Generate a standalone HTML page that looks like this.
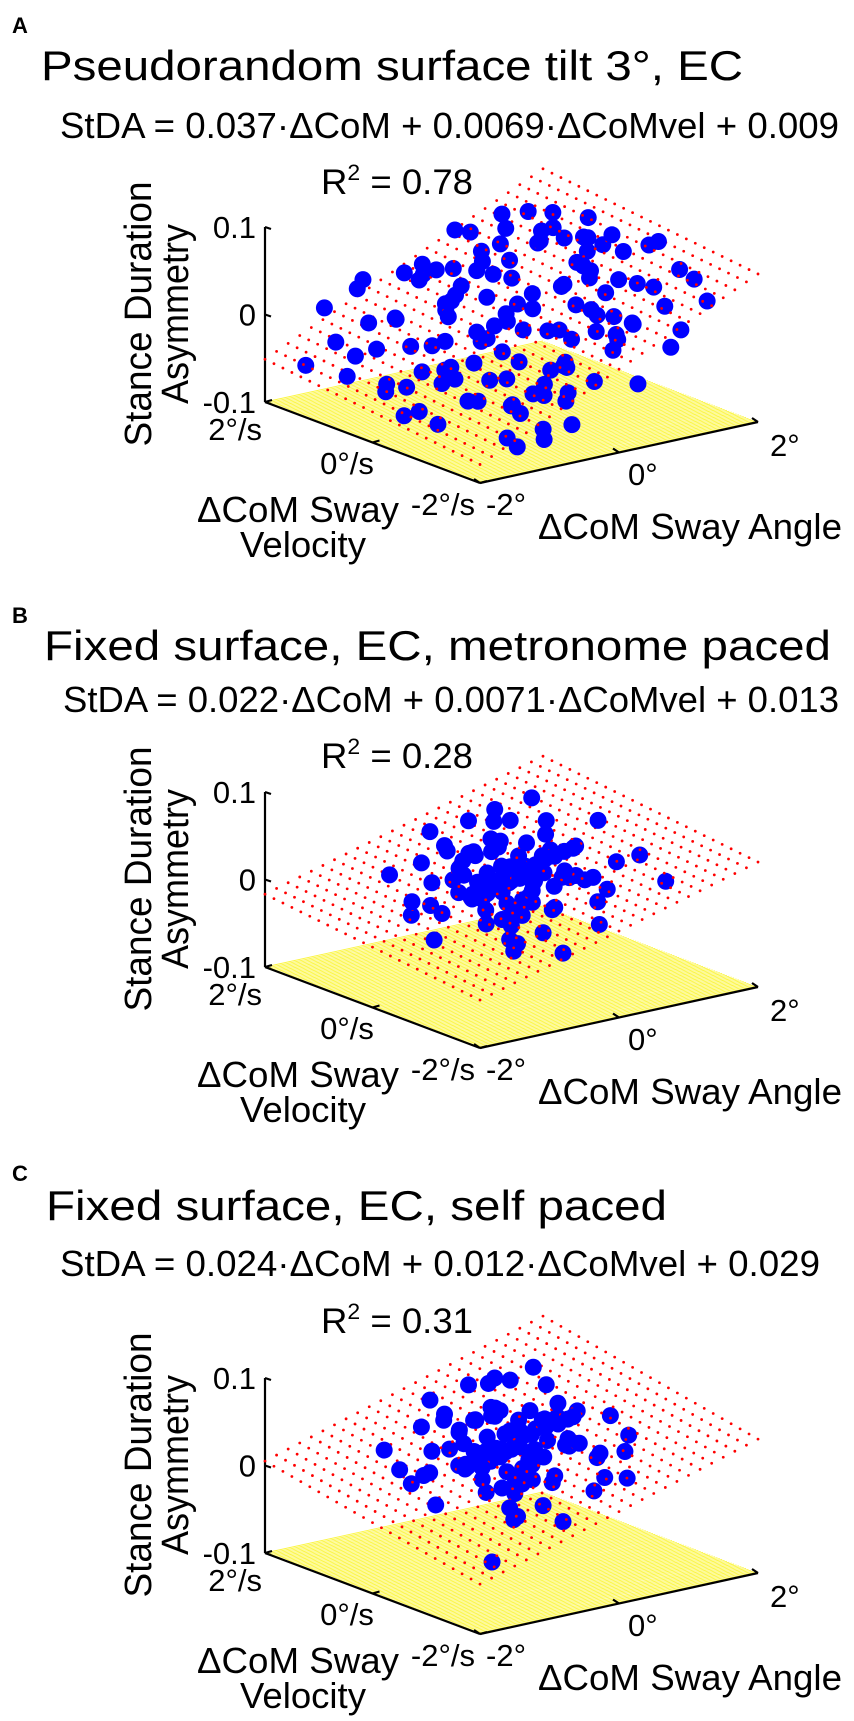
<!DOCTYPE html>
<html><head><meta charset="utf-8">
<style>
html,body{margin:0;padding:0;background:#fff;}
svg{display:block;font-family:"Liberation Sans",sans-serif;}
</style></head>
<body>
<svg id="fig" width="854" height="1721" viewBox="0 0 854 1721" xmlns="http://www.w3.org/2000/svg"></svg>
<script>
// ---- Panel data ----
const panelLetters = ["A","B","C"];
const panelTitles = ["Pseudorandom surface tilt 3°, EC","Fixed surface, EC, metronome paced","Fixed surface, EC, self paced"];
const equations = ["StDA = 0.037·ΔCoM + 0.0069·ΔCoMvel + 0.009","StDA = 0.022·ΔCoM + 0.0071·ΔCoMvel + 0.013","StDA = 0.024·ΔCoM + 0.012·ΔCoMvel + 0.029"];
const rSquared = ["0.78","0.28","0.31"];
const coefAngle = [0.037,0.022,0.024];
const coefVel = [0.0069,0.0071,0.012];
const intercepts = [0.009,0.013,0.029];
const zTicks = [0.1,0,-0.1];
const zTickLabels = ["0.1","0","-0.1"];
const velTicks = [2,0,-2];
const velTickLabels = ["2°/s","0°/s","-2°/s"];
const angTicks = [-2,0,2];
const angTickLabels = ["-2°","0°","2°"];

// Panel A points
const angleA = [-1.8,-1.6,-1.5,-1.3,-1.2,-1.1,-1.0,-0.9,-0.8,-0.7,-0.6,-0.5,-0.4,-0.3,-0.2,-0.1,0.0,0.1,0.2,0.3,0.4,0.5,0.6,0.7,0.8,0.9,1.0,1.1,1.2,1.3,1.4,1.5,1.6,1.7,1.8,1.9,-1.7,-1.4,-0.95,-0.65,-0.45,-0.25,-0.05,0.15,0.35,0.55,0.75,0.95,1.15,1.35,-1.55,-1.25,-0.85,-0.55,-0.35,-0.15,0.05,0.25,0.45,0.65,0.85,1.05,1.25,1.45,1.65,-1.9,-1.05,-0.75,-0.15,0.35,-0.6,-1.3,0.9,1.5,0.1,-0.2,0.3,-0.4,0.6,0.0,-0.9,1.0,0.2,-0.5,0.8,1.2,-1.1,-0.3,0.5,1.7];
const velA = [1.5,1.2,0.4,1.8,-0.5,0.9,-1.4,1.6,0.2,-0.9,1.1,-1.7,0.6,-0.3,1.4,-1.1,0.1,-0.6,0.8,-1.5,0.3,1.7,-0.2,-1.0,0.5,1.2,-0.7,0.0,-1.6,0.7,1.5,-0.4,0.2,-1.2,0.9,-0.1,-0.2,-1.0,-0.1,0.4,-0.6,0.9,0.5,-0.2,1.1,0.6,-0.5,0.3,1.0,-0.9,0.9,0.1,-0.4,-1.3,0.0,-0.8,1.0,0.4,-0.9,1.4,-0.1,0.8,0.4,1.1,-0.6,0.6,1.3,1.9,1.8,-1.9,-1.9,-1.6,-1.8,-1.7,0.3,0.2,-0.5,-0.2,0.1,-0.4,0.5,-0.3,1.3,1.5,1.8,-0.2,-0.8,-1.0,-1.3,0.5];
const asymA = [-0.05,-0.02,-0.06,0.0,-0.03,-0.07,-0.09,0.03,-0.01,-0.06,-0.04,-0.03,0.02,-0.05,0.04,-0.02,0.01,-0.04,0.05,0.0,-0.02,0.06,0.04,0.02,0.07,0.03,0.05,0.08,0.01,0.06,0.07,0.03,0.07,0.05,0.07,0.06,-0.07,-0.04,-0.03,-0.05,-0.07,0.0,-0.03,0.02,0.03,0.0,0.06,0.02,0.05,0.04,-0.03,-0.08,-0.02,-0.08,-0.01,-0.06,0.02,-0.01,0.03,0.04,0.01,0.07,0.04,0.06,0.08,-0.04,-0.01,0.01,0.02,-0.03,-0.06,-0.07,0.0,0.04,-0.04,0.03,0.0,0.01,-0.02,-0.07,-0.05,0.0,0.0,-0.02,0.05,0.02,-0.05,-0.04,0.01,0.05];
const angleA2 = [-1.0,-0.6,-0.2,0.2,0.6,1.0,1.4,-1.4,-0.8,-0.4,0.0,0.4,0.8,1.2,1.6,-1.2,-0.5,0.1,0.7,1.3,-0.7,-0.1,0.5,1.1,-0.3,0.3,0.9,1.5,-1.6,-0.9,-0.2,0.4,1.0,1.8,-0.6,0.0,0.6,1.2,-1.0,0.2];
const velA2 = [0.0,0.4,-0.4,0.6,-0.8,1.4,0.4,0.7,-1.2,1.2,-1.0,1.6,-0.3,-1.3,1.3,0.4,0.0,-0.9,0.9,-0.4,-0.5,1.1,-1.6,1.6,-1.4,0.0,-1.1,0.6,-0.7,1.0,-1.8,-0.6,1.5,-0.8,0.7,1.4,-1.2,0.1,-1.9,1.9];
const asymA2 = [-0.05,0.01,-0.03,0.04,0.0,0.06,0.05,-0.02,-0.06,0.03,-0.02,0.02,0.06,0.03,0.07,-0.06,0.0,-0.03,0.02,0.07,-0.04,0.0,0.03,0.07,-0.05,0.03,0.01,0.06,-0.07,0.0,-0.02,-0.01,0.04,0.05,-0.03,0.03,0.0,0.03,-0.07,0.01];

// Panel B points
const angleB = [0.0,0.2,-0.2,0.1,-0.1,0.3,-0.3,0.4,-0.4,0.15,-0.15,0.25,-0.25,0.05,-0.05,0.35,-0.35,0.5,-0.5,0.1,-0.1,0.45,-0.45,0.2,0.6,-0.6,0.0,0.0,0.3,-0.3,0.8,-0.8,0.9,-0.7,1.0,-1.0,0.6,-0.5,0.7,-0.6,1.2,-1.2,0.2,-0.2,0.4,-0.4,1.4,-1.5,0.5,-0.1,0.3,-0.3,0.1,0.8,-0.9,1.1,-1.1,0.0,0.9,-0.8,2.0,1.6,-1.6,0.6,-0.7,0.3,0.2,-0.5,0.7,-0.2,1.3,-1.3,0.5,-0.6,0.4];
const velB = [0.0,0.1,0.2,-0.3,-0.1,0.3,-0.2,-0.1,0.1,0.4,-0.4,-0.25,0.35,0.15,-0.25,0.05,0.0,0.2,-0.1,0.5,-0.5,0.45,0.4,-0.5,-0.3,0.2,0.3,-0.2,0.0,0.5,0.4,-0.3,-0.2,0.6,0.1,0.0,0.8,-0.8,-0.7,0.9,-0.4,0.3,0.9,-0.9,-1.0,1.0,0.2,-0.5,0.0,0.2,-0.2,-0.5,0.6,-0.6,0.7,0.7,-0.7,0.8,0.9,-1.0,0.2,-0.8,0.2,0.4,-0.2,0.7,-0.7,0.6,0.1,-0.3,-0.1,-0.2,-0.5,-0.6,0.9];
const asymB = [0.01,0.02,0.0,0.015,0.03,0.005,0.02,0.03,0.01,-0.01,0.0,0.04,0.035,-0.02,-0.01,0.0,0.025,0.015,0.0,0.03,0.035,0.02,-0.005,-0.015,0.01,0.03,0.045,-0.025,-0.02,0.01,0.04,0.01,0.0,-0.02,0.03,-0.01,0.05,0.04,-0.01,0.02,0.02,0.0,-0.03,0.06,0.03,0.05,0.05,-0.02,0.07,0.075,-0.05,-0.045,-0.055,-0.04,-0.03,0.01,0.03,0.06,-0.01,-0.02,0.0,0.0,0.04,0.085,0.06,0.07,-0.06,0.045,-0.035,-0.06,-0.02,0.035,0.05,-0.01,0.03];
const angleB2 = [0.05,-0.25,0.35,-0.45,0.15,0.55,-0.05,0.25,-0.35,0.45,-0.15,0.65,-0.55,0.0,0.3,-0.3,0.1,-0.1,0.5,-0.5,0.2,-0.2,0.4,-0.4,0.7,-0.7,0.15,-0.15,0.35,-0.35];
const velB2 = [0.25,-0.15,-0.35,0.05,0.55,0.1,-0.45,0.6,0.3,-0.4,0.05,-0.1,-0.3,0.45,-0.6,0.7,-0.15,0.35,-0.55,0.55,0.25,-0.05,0.2,-0.3,0.3,0.0,-0.6,0.6,0.5,-0.45];
const asymB2 = [0.02,0.005,0.04,0.015,-0.005,0.025,0.01,0.035,-0.01,0.045,0.05,0.005,0.02,-0.015,0.03,0.0,0.055,-0.03,0.02,0.04,-0.035,0.06,-0.02,0.025,0.0,0.045,0.015,0.03,-0.01,-0.025];

// Panel C points
const angleC = [0,0.2,-0.2,0.1,-0.1,0.3,-0.3,0.4,-0.4,0.15,-0.15,0.25,-0.25,0.05,-0.05,0.35,-0.35,0.5,-0.5,0.1,-0.1,0.45,-0.45,0.2,0.6,-0.6,0.0,0.0,0.3,-0.3,0.9,-0.9,1.0,-0.8,1.1,-1.1,0.6,-0.5,0.8,-0.6,1.3,-1.3,0.2,-0.2,0.5,-0.4,1.5,-1.4,0.5,-0.1,0.3,-0.3,0.1,0.8,-0.9,1.2,-1.2,0.0,0.9,-0.8,-0.28,1.4,-1.6,0.7,-0.7,0.3,0.2,-0.5,0.7,-0.2,1.2,-1.3,0.5,-0.6,0.4];
const velC = [0,0.1,0.2,-0.3,-0.1,0.3,-0.2,-0.1,0.1,0.4,-0.4,-0.25,0.35,0.15,-0.25,0.05,0.0,0.2,-0.1,0.5,-0.5,0.45,0.4,-0.5,-0.3,0.2,0.3,-0.2,0.0,0.5,0.3,-0.3,-0.3,0.6,0.2,0.1,0.8,-0.8,-0.7,0.9,-0.5,0.4,0.9,-0.9,-1.0,1.0,0.1,-0.4,0.0,0.3,-0.2,-0.5,0.6,-0.5,0.7,0.7,-0.7,0.8,0.9,-1.0,0,-0.3,0.3,0.5,-0.2,0.7,-0.7,0.6,0.1,-0.3,-0.6,-0.2,-0.5,-0.6,0.9];
const asymC = [0.03,0.045,0.02,0.035,0.055,0.025,0.04,0.06,0.03,0.01,0.02,0.065,0.06,0.0,0.005,0.015,0.05,0.04,0.02,0.055,0.06,0.045,0.01,0.0,0.03,0.055,0.07,-0.005,-0.01,0.03,0.06,0.03,0.01,0.0,0.05,0.02,0.08,0.06,0.0,0.045,0.035,0.02,-0.01,0.08,0.04,0.07,0.04,0.0,0.095,0.1,-0.035,-0.03,-0.035,-0.02,-0.01,0.03,0.05,0.085,0.01,0.0,-0.094,0.01,0.05,0.1,0.08,0.09,-0.04,0.065,-0.015,-0.04,-0.01,0.055,0.07,0.01,0.05];
const angleC2 = [0.1,-0.3,0.4,-0.5,0.2,0.6,-0.1,0.3,-0.4,0.5,-0.2,0.7,-0.6,0.05,0.35,-0.35,0.15,-0.15,0.55,-0.55,0.25,-0.25,0.45,-0.45,0.75,-0.75,0.0,-0.05,0.3,-0.3];
const velC2 = [0.25,-0.15,-0.35,0.05,0.55,0.1,-0.45,0.6,0.3,-0.4,0.05,-0.1,-0.3,0.45,-0.6,0.7,-0.15,0.35,-0.55,0.55,0.25,-0.05,0.2,-0.3,0.3,0.0,-0.6,0.6,0.5,-0.45];
const asymC2 = [0.04,0.03,0.06,0.035,0.015,0.05,0.03,0.055,0.01,0.065,0.07,0.025,0.045,0.005,0.05,0.02,0.075,-0.01,0.04,0.06,-0.015,0.08,0.0,0.045,0.02,0.065,0.035,0.05,0.01,-0.005];

const angleData = [angleA.concat(angleA2), angleB.concat(angleB2), angleC.concat(angleC2)];
const velData = [velA.concat(velA2), velB.concat(velB2), velC.concat(velC2)];
const asymData = [asymA.concat(asymA2), asymB.concat(asymB2), asymC.concat(asymC2)];

// ---- layout (not data) ----
const panelOffsets = [0, 565, 1151];
const headerY = [[33,80,138,194],[623,660,712,768],[1181,1220,1276,1333]];
const titleWidths = [[41,702],[44,787],[46,621]];
const eqWidths = [[60,779],[63,776],[60,760]];
const NS = "http://www.w3.org/2000/svg";
const svg = document.getElementById("fig");

function mk(tag, attrs, parent) {
  const e = document.createElementNS(NS, tag);
  for (const k in attrs) e.setAttribute(k, attrs[k]);
  (parent || svg).appendChild(e);
  return e;
}
function projX(a, v) { return 480 + 69.5 * (a + 2) - 53.75 * (v + 2); }
function projY(a, v, z, off) { return off + 483 - 15.25 * (a + 2) - 20.25 * (v + 2) - 875 * (z + 0.1); }

for (let p = 0; p < 3; p++) {
  const off = panelOffsets[p];
  const g = mk("g", {});
  
  
  const hy = headerY[p];
  let t = mk("text", {x: 12, y: hy[0], "font-size": 22, "font-weight": "bold"}, g);
  t.textContent = panelLetters[p];
  
  
  t = mk("text", {x: titleWidths[p][0], y: hy[1], "font-size": 42, textLength: titleWidths[p][1], lengthAdjust: "spacingAndGlyphs"}, g);
  t.textContent = panelTitles[p];
  
  
  t = mk("text", {x: eqWidths[p][0], y: hy[2], "font-size": 36, textLength: eqWidths[p][1], lengthAdjust: "spacingAndGlyphs"}, g);
  t.textContent = equations[p];
  
  
  t = mk("text", {x: 321, y: hy[3], "font-size": 35, textLength: 152, lengthAdjust: "spacingAndGlyphs"}, g);
  
  
  t.appendChild(document.createTextNode("R"));
  const sup = mk("tspan", {dy: -14, "font-size": 22}, t);
  sup.textContent = "2";
  const rest = mk("tspan", {dy: 14}, t);
  rest.textContent = " = " + rSquared[p];

  // floor
  const floor = mk("g", {}, g);
  
  
  const corners = [[-2,-2],[2,-2],[2,2],[-2,2]];
  mk("polygon", {points: corners.map(c => projX(c[0],c[1]) + "," + projY(c[0],c[1],-0.1,off)).join(" "), fill: "#ffffff"}, floor);
  for (let i = 0; i <= 90; i++) {
    const v = -2 + 4 * i / 90;
    mk("line", {x1: projX(-2,v), y1: projY(-2,v,-0.1,off), x2: projX(2,v), y2: projY(2,v,-0.1,off), stroke: "#fbf540", "stroke-width": 0.9}, floor);
  }
  // axes
  const ax = mk("g", {stroke: "#000", "stroke-width": 2.2, fill: "none"}, g);
  
  
  mk("line", {x1: projX(-2,2), y1: projY(-2,2,-0.1,off), x2: projX(-2,2), y2: projY(-2,2,0.1,off)}, ax);
  mk("line", {x1: projX(-2,2), y1: projY(-2,2,-0.1,off), x2: projX(-2,-2), y2: projY(-2,-2,-0.1,off)}, ax);
  mk("line", {x1: projX(-2,-2), y1: projY(-2,-2,-0.1,off), x2: projX(2,-2), y2: projY(2,-2,-0.1,off)}, ax);
  zTicks.forEach((z, i) => {
    const x = projX(-2,2), y = projY(-2,2,z,off);
    mk("line", {x1: x, y1: y, x2: x + 6, y2: y + 2}, ax);
    const tl = mk("text", {x: x - 9, y: y + 11, "font-size": 31, "text-anchor": "end"}, g);
    tl.textContent = zTickLabels[i];
    
    
  });
  const velLabelPos = [[262,440],[347,474],[475,515]];
  velTicks.forEach((v, i) => {
    const x = projX(-2,v), y = projY(-2,v,-0.1,off);
    mk("line", {x1: x, y1: y, x2: x + 7, y2: y - 2}, ax);
    const tl = mk("text", {x: velLabelPos[i][0], y: off + velLabelPos[i][1], "font-size": 31, "text-anchor": i === 1 ? "middle" : "end"}, g);
    tl.textContent = velTickLabels[i];
    
    
  });
  const angLabelPos = [[486,515],[628,485],[770,456]];
  angTicks.forEach((a, i) => {
    const x = projX(a,-2), y = projY(a,-2,-0.1,off);
    mk("line", {x1: x, y1: y, x2: x - 6, y2: y - 4}, ax);
    const tl = mk("text", {x: angLabelPos[i][0], y: off + angLabelPos[i][1], "font-size": 31}, g);
    tl.textContent = angTickLabels[i];
    
    
  });
  t = mk("text", {x: 197, y: off + 522, "font-size": 36, textLength: 202, lengthAdjust: "spacingAndGlyphs"}, g);
  t.textContent = "ΔCoM Sway";
  
  
  t = mk("text", {x: 240, y: off + 557, "font-size": 36, textLength: 126, lengthAdjust: "spacingAndGlyphs"}, g);
  t.textContent = "Velocity";
  
  
  t = mk("text", {x: 538, y: off + 539, "font-size": 36, textLength: 304, lengthAdjust: "spacingAndGlyphs"}, g);
  t.textContent = "ΔCoM Sway Angle";
  
  
  t = mk("text", {x: 0, y: 0, "font-size": 38, "text-anchor": "middle", transform: "translate(151," + (off + 314) + ") rotate(-90)", textLength: 265, lengthAdjust: "spacingAndGlyphs"}, g);
  t.textContent = "Stance Duration";
  
  
  t = mk("text", {x: 0, y: 0, "font-size": 38, "text-anchor": "middle", transform: "translate(188," + (off + 314) + ") rotate(-90)", textLength: 180, lengthAdjust: "spacingAndGlyphs"}, g);
  t.textContent = "Asymmetry";
  
  

  const plane = (a, v) => coefAngle[p] * a + coefVel[p] * v + intercepts[p];
  const A = angleData[p], V = velData[p], Z = asymData[p];
  const below = mk("g", {fill: "#0000ff"}, g);
  
  
  const dots = mk("g", {fill: "#ff0000"}, g);
  
  
  const above = mk("g", {fill: "#0000ff"}, g);
  
  
  const N = 24;
  for (let i = 0; i <= N; i++) for (let j = 0; j <= N; j++) {
    const a = -2 + 4 * i / N, v = -2 + 4 * j / N;
    mk("circle", {cx: projX(a,v), cy: projY(a,v,plane(a,v),off), r: 1.4}, dots);
  }
  for (let k = 0; k < A.length; k++) {
    const c = mk("circle", {cx: projX(A[k],V[k]), cy: projY(A[k],V[k],Z[k],off), r: 8.5}, Z[k] < plane(A[k],V[k]) ? below : above);
    
    
  }
}
</script>
</body></html>
